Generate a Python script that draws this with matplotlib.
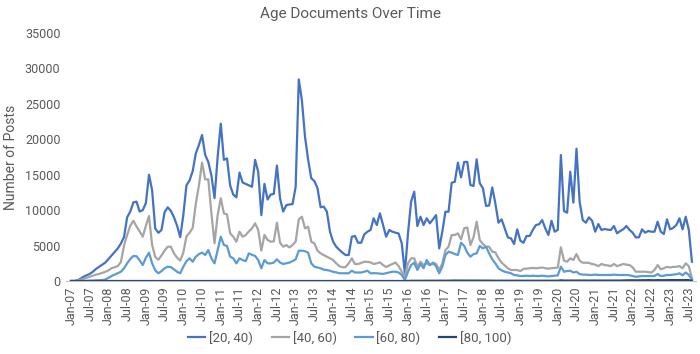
import matplotlib
matplotlib.use("Agg")
import matplotlib.pyplot as plt

plt.rcParams['font.family'] = ['Roboto', 'DejaVu Sans']

# monthly, Jan-07 .. Aug-23
age_20_40 = [
    0, 0, 100, 300, 600, 800, 1000, 1300, 1700, 2000,
    2300, 2600, 3100, 3600, 4100, 4600, 5300, 6200, 9000, 9800,
    11100, 11200, 9800, 10000, 11000, 15000, 12800, 7400, 6800, 7200,
    9700, 10400, 9900, 9000, 7800, 6200, 9300, 13500, 14200, 15500,
    18000, 19200, 20600, 17800, 16800, 14900, 11700, 17500, 22200, 17100,
    17300, 13500, 12200, 11800, 15300, 13900, 13700, 13500, 13300, 17100,
    15400, 9300, 13700, 11500, 12200, 12300, 16300, 11650, 9800, 10700,
    10800, 10850, 13300, 28450, 25500, 20350, 17100, 14500, 14100, 13100,
    10400, 10500, 9800, 6960, 5550, 4840, 4400, 4000, 3670, 3670,
    6250, 6350, 5400, 5400, 6580, 6960, 7200, 8850, 7900, 9550,
    7900, 6250, 7200, 6960, 6820, 6700, 5320, 1090, 6730, 11200,
    12600, 7760, 9070, 7900, 8850, 8140, 8700, 9300, 4600, 6960,
    9780, 9780, 13870, 14000, 16700, 14630, 16800, 16800, 13550, 13400,
    17170, 13800, 13100, 10600, 10650, 13200, 10950, 8230, 8700, 7430,
    6160, 6020, 5220, 7290, 5700, 5400, 6350, 6350, 7200, 7900,
    8000, 8600, 7430, 6490, 8500, 6960, 7200, 17780, 9880, 9640,
    15420, 11050, 18670, 11200, 8600, 8230, 8980, 8500, 6960, 8040,
    7200, 7340, 7250, 7200, 7760, 6730, 7050, 7300, 7760, 7200,
    6820, 6160, 6160, 7290, 6820, 7050, 6960, 6960, 8370, 6960,
    6630, 8700, 7290, 7500, 7900, 8850, 7290, 9070, 7200, 2720,
]
age_40_60 = [
    0, 0, 50, 150, 300, 450, 600, 750, 900, 1000,
    1150, 1300, 1500, 1800, 1950, 2100, 2700, 5000, 6500, 7800,
    8500, 7700, 7000, 6250, 7800, 9170, 5080, 3400, 3000, 3600,
    4300, 4840, 4840, 3900, 3300, 2870, 4000, 6300, 6800, 7500,
    10900, 13500, 16700, 14350, 14350, 9550, 5320, 9310, 11670, 9550,
    9400, 6730, 6250, 5550, 6960, 6250, 6490, 7000, 7430, 8140,
    7200, 4280, 6490, 5780, 5550, 5600, 8230, 5400, 4840, 5080,
    4730, 5100, 5550, 8700, 9070, 7430, 7660, 5550, 5320, 4280,
    3900, 3650, 3430, 3200, 2960, 2490, 2100, 1930, 1970, 2490,
    3200, 2400, 2400, 2550, 2720, 2700, 2630, 2400, 2500, 2630,
    2250, 1970, 2200, 2400, 2600, 2100, 1310, 700, 2490, 3200,
    3200, 2020, 2720, 2250, 2490, 2250, 2600, 2400, 1550, 2490,
    4370, 4840, 6490, 6490, 6730, 5880, 7430, 7560, 5080, 6160,
    8370, 5780, 5220, 4840, 4840, 4130, 4040, 3200, 2600, 2200,
    1790, 1550, 1550, 1550, 1400, 1700, 1750, 1800, 1850, 1800,
    1850, 1900, 1800, 1750, 1800, 1850, 1900, 4750, 2870, 2720,
    3200, 2960, 3800, 2870, 2580, 2580, 2550, 2400, 2300, 2100,
    2400, 2250, 2200, 2100, 2400, 2100, 2250, 2400, 2300, 2250,
    1930, 1310, 1310, 1310, 1310, 1250, 1200, 1550, 2250, 1650,
    1800, 2000, 1900, 2000, 2000, 2100, 1800, 2500, 2100, 380,
]
age_60_80 = [
    0, 0, 0, 0, 0, 20, 40, 60, 80, 100,
    130, 200, 450, 700, 900, 1090, 1310, 1800, 2500, 3100,
    3530, 3500, 2900, 2250, 3300, 4000, 2490, 1500, 1090, 1400,
    1800, 2020, 1950, 1650, 1300, 1090, 2020, 2800, 3200, 2720,
    3430, 3800, 4000, 3670, 4370, 3200, 2490, 4370, 6250, 5080,
    4950, 3430, 3200, 2490, 3200, 2950, 2800, 3900, 3700, 3530,
    2960, 1790, 2960, 2490, 2490, 2600, 3060, 2600, 2400, 2500,
    2600, 2800, 3060, 4280, 4280, 4200, 4000, 2490, 2020, 1900,
    1790, 1600, 1550, 1450, 1300, 1220, 1090, 1090, 1090, 1090,
    1450, 1200, 1200, 1200, 1310, 1450, 1090, 1100, 1090, 1050,
    1000, 1100, 1200, 1310, 1310, 1200, 850, 140, 1310, 2250,
    2580, 1550, 2400, 1800, 2960, 2250, 2490, 2100, 1090, 2020,
    3670, 4130, 4000, 3800, 3670, 5400, 4950, 4000, 3430, 3800,
    3900, 4950, 4600, 4840, 3900, 3060, 2490, 1800, 1500, 1310,
    1200, 1090, 850, 800, 700, 700, 750, 700, 750, 700,
    700, 750, 700, 650, 700, 750, 800, 2020, 1310, 1400,
    1450, 1200, 1300, 990, 900, 900, 850, 850, 900, 850,
    850, 850, 850, 850, 900, 850, 850, 850, 850, 800,
    700, 600, 650, 700, 700, 700, 700, 700, 990, 700,
    750, 850, 850, 900, 950, 1090, 800, 1200, 850, 240,
]
age_80_100 = [
    0, 0, 0, 0, 0, 0, 0, 0, 0, 0,
    0, 0, 0, 0, 0, 0, 0, 0, 0, 0,
    0, 0, 0, 0, 0, 0, 0, 0, 0, 0,
    0, 0, 0, 0, 0, 0, 0, 0, 0, 0,
    0, 0, 0, 0, 0, 0, 0, 0, 0, 0,
    0, 0, 0, 0, 0, 0, 0, 0, 0, 0,
    0, 0, 0, 0, 0, 0, 0, 0, 0, 0,
    0, 0, 0, 0, 0, 0, 0, 0, 0, 0,
    0, 0, 0, 0, 0, 0, 0, 0, 0, 0,
    0, 0, 0, 0, 0, 0, 0, 0, 0, 0,
    0, 0, 0, 0, 0, 0, 0, 0, 20, 30,
    30, 20, 30, 30, 40, 30, 30, 40, 20, 30,
    40, 50, 50, 60, 60, 60, 70, 60, 60, 60,
    60, 60, 50, 50, 50, 40, 40, 40, 40, 40,
    40, 40, 40, 40, 40, 40, 40, 40, 40, 40,
    40, 40, 40, 40, 40, 40, 40, 90, 60, 60,
    60, 60, 60, 50, 50, 50, 50, 50, 50, 50,
    50, 50, 50, 50, 50, 50, 60, 80, 90, 100,
    100, 90, 100, 110, 100, 120, 110, 100, 120, 110,
    110, 120, 120, 130, 120, 130, 120, 140, 120, 30,
]
series_labels = ['[20, 40)', '[40, 60)', '[60, 80)', '[80, 100)']
series_colors = ['#4472C4', '#A5A5A5', '#5B9BD5', '#264478']

months = ['Jan', 'Jul']
tick_labels = ['%s-%02d' % (mo, yr) for yr in range(7, 24) for mo in months]

n = len(age_20_40)
x = list(range(n))

fig = plt.figure(figsize=(7.0, 3.54), dpi=100)
ax = fig.add_axes([66 / 700, 73 / 354, 630 / 700, 248 / 354])

for vals, lab, col in zip([age_20_40, age_40_60, age_60_80, age_80_100],
                          series_labels, series_colors):
    ax.plot(x, vals, color=col, lw=1.6, label=lab, solid_joinstyle='round')

ax.set_xlim(-1.6, 200.3)
ax.set_ylim(0, 35000)
ax.set_yticks(range(0, 35001, 5000))
ax.set_xticks(range(0, len(tick_labels) * 6, 6))
ax.set_xticklabels(tick_labels, rotation=90)
ax.tick_params(axis='both', length=0, labelsize=9, colors='#595959', pad=4)
for s in ['top', 'right', 'left']:
    ax.spines[s].set_visible(False)
ax.spines['bottom'].set_color('#BFBFBF')

ax.set_ylabel('Number of Posts', fontsize=10, color='#595959', labelpad=5)
fig.text(0.5, 0.96, 'Age Documents Over Time', ha='center', va='center',
         fontsize=11, color='#595959')

fig.legend(loc='center', bbox_to_anchor=(0.5, 0.045), ncol=4, frameon=False,
           fontsize=9.5, labelcolor='#595959', handlelength=1.3,
           handletextpad=0.3, columnspacing=1.4)

fig.savefig('out.png', dpi=100)
